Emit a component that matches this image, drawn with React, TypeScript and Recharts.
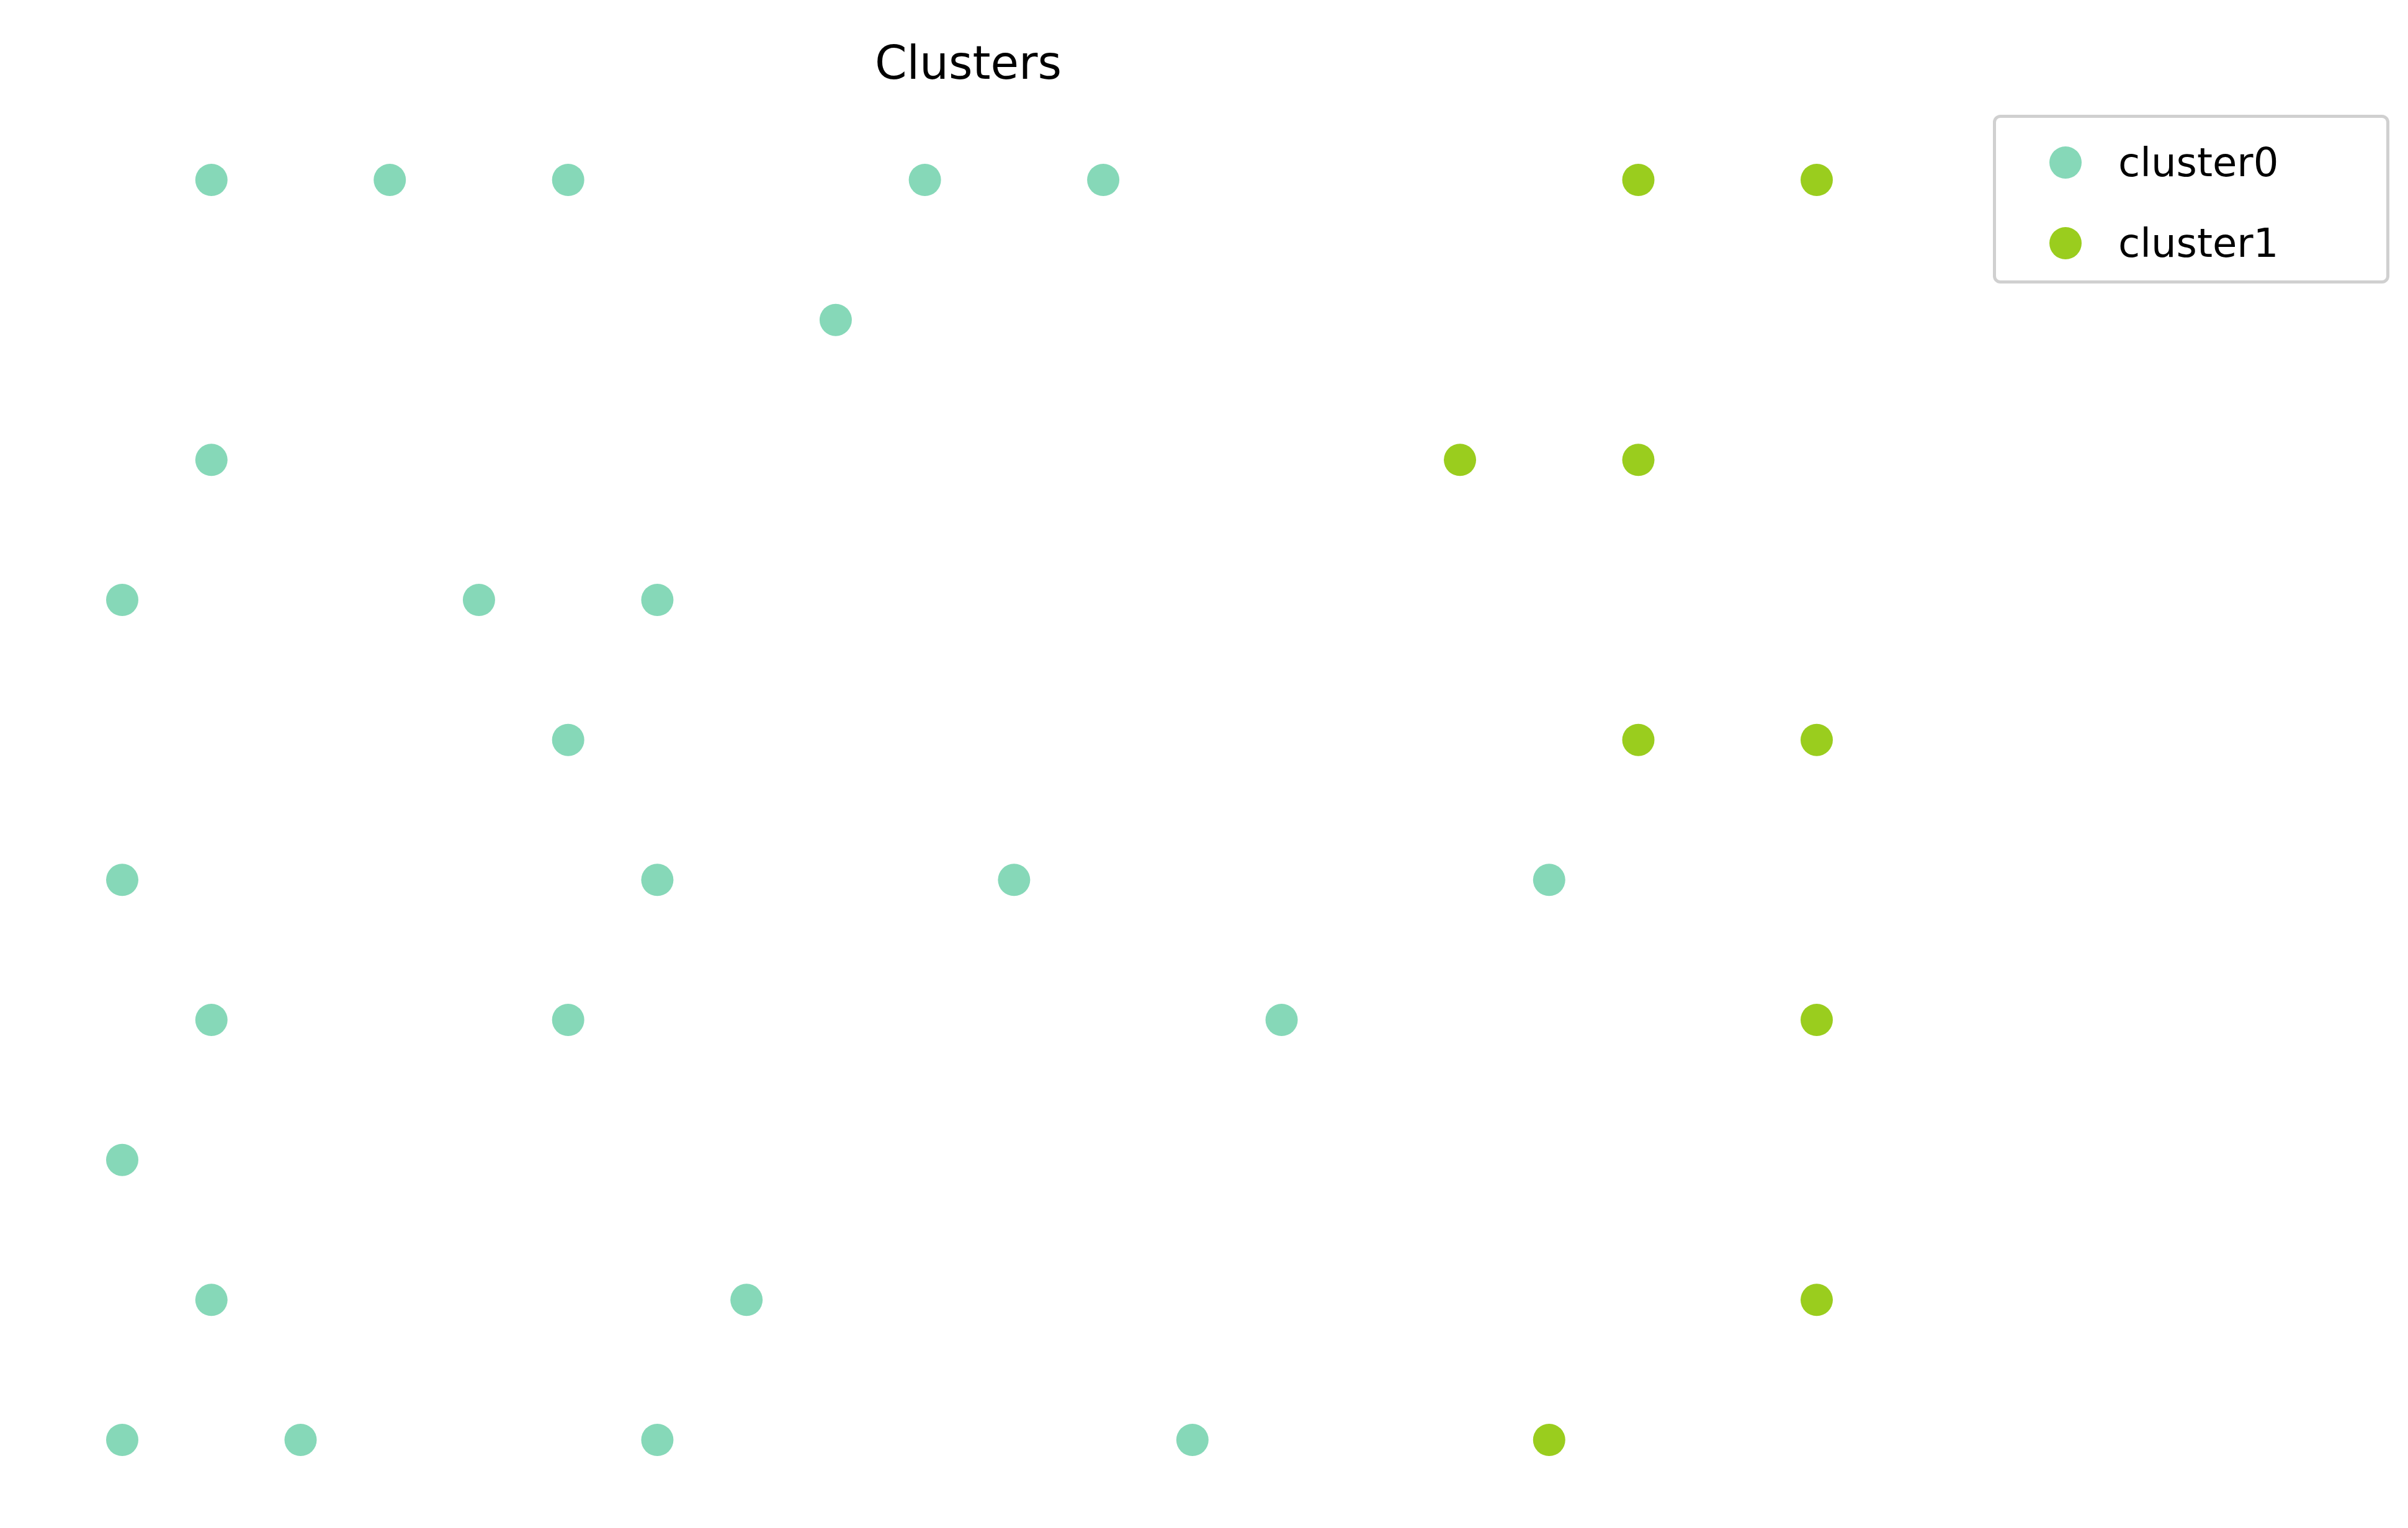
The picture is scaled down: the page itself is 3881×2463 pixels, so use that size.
import React from "react";
import { ScatterChart, Scatter, XAxis, YAxis } from "recharts";

const cluster0X = [1, 3, 5, 9, 11, 8, 1, 0, 4, 6, 5, 0, 6, 10, 16, 1, 5, 13, 0, 1, 7, 0, 2, 6, 12];
const cluster0Y = [9, 9, 9, 9, 9, 8, 7, 6, 6, 6, 5, 4, 4, 4, 4, 3, 3, 3, 2, 1, 1, 0, 0, 0, 0];
const cluster1X = [17, 19, 15, 17, 17, 19, 19, 19, 16];
const cluster1Y = [9, 9, 7, 7, 5, 5, 3, 1, 0];

const seriesNames = ["cluster0", "cluster1"];
const colors = ["#86d8b8", "#9acd1e"];

const toPoints = (xs: number[], ys: number[]) => xs.map((x, i) => ({ x, y: ys[i] }));

const font = "'DejaVu Sans', sans-serif";

const Dot = (props: any) => <circle cx={props.cx} cy={props.cy} r={26} fill={props.fill} />;

// matplotlib-style legend box, placed over the chart
const LegendBox = () => (
  <div
    style={{
      position: "absolute",
      left: 3212,
      top: 185,
      border: "5px solid #d0d0d0",
      borderRadius: 12,
      background: "white",
      width: 639,
      height: 272,
      boxSizing: "border-box",
      fontFamily: font,
      fontSize: 64,
    }}
  >
    {seriesNames.map((n, i) => (
      <div
        key={n}
        style={{ position: "absolute", left: 0, top: i === 0 ? 32 : 162, height: 80, display: "flex", alignItems: "center" }}
      >
        <svg width={150} height={80}>
          <circle cx={112} cy={40} r={26} fill={colors[i]} />
        </svg>
        <span style={{ marginLeft: 47 }}>{n}</span>
      </div>
    ))}
  </div>
);

export default function App() {
  return (
    <div style={{ position: "absolute", left: 0, top: 0, width: 3881, height: 2463, background: "white" }}>
      <div
        style={{
          position: "absolute",
          left: 0,
          width: 3121,
          top: 58,
          textAlign: "center",
          fontFamily: font,
          fontSize: 74,
          color: "#000",
        }}
      >
        Clusters
      </div>
      <ScatterChart width={3881} height={2463} margin={{ left: 197, right: 953, top: 290, bottom: 142 }}>
        <XAxis type="number" dataKey="x" domain={[0, 19]} hide />
        <YAxis type="number" dataKey="y" domain={[0, 9]} hide />
        <Scatter
          name={seriesNames[0]}
          data={toPoints(cluster0X, cluster0Y)}
          fill={colors[0]}
          shape={Dot}
          isAnimationActive={false}
        />
        <Scatter
          name={seriesNames[1]}
          data={toPoints(cluster1X, cluster1Y)}
          fill={colors[1]}
          shape={Dot}
          isAnimationActive={false}
        />
      </ScatterChart>
      <LegendBox />
    </div>
  );
}
